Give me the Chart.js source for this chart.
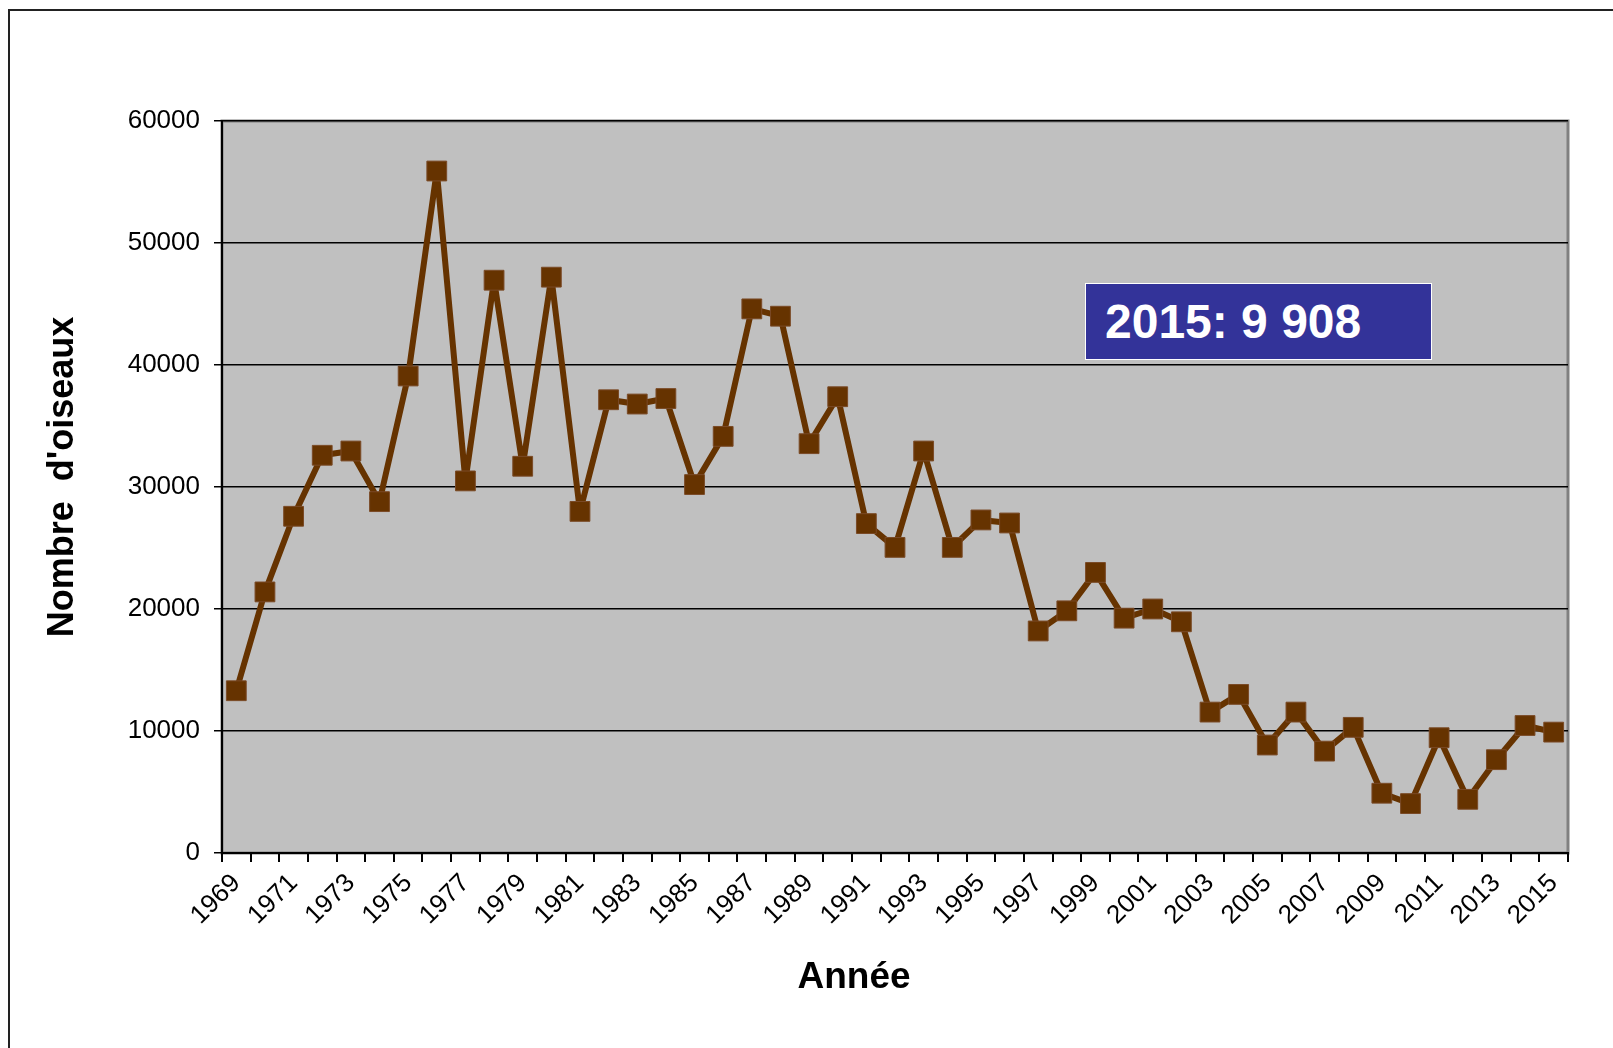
<!DOCTYPE html>
<html>
<head>
<meta charset="utf-8">
<script src="https://cdn.jsdelivr.net/npm/chart.js@4.4.1/dist/chart.umd.min.js"></script>
<style>
  body { margin: 0; background: #fff; overflow: hidden; }
  #wrap { position: relative; width: 1613px; height: 1048px; }
  #frame { position: absolute; left: 8px; top: 9px; width: 1700px; height: 1100px;
           border-left: 2px solid #222; border-top: 2px solid #222; }
  #chart { position: absolute; left: 0; top: 0; }
  .txt { position: absolute; font-family: "Liberation Sans", Arial, sans-serif; font-weight: bold; color: #000; }
  #xTitle { left: 754px; width: 200px; top: 954px; text-align: center; font-size: 37px; line-height: 44px; }
  #yTitle { left: -139px; width: 400px; top: 455px; text-align: center; font-size: 36px; line-height: 44px;
            transform: rotate(-90deg); white-space: pre; }
  #note { left: 1085px; top: 283px; width: 326px; height: 75px; background: #333399;
          border: 1.5px solid #fff; color: #fff; font-size: 48px; line-height: 75px; padding-left: 19px; }
</style>
</head>
<body>
<div id="wrap">
  <div id="frame"></div>
  <canvas id="chart" width="1613" height="1048"></canvas>
  <div id="xTitle" class="txt">Année</div>
  <div id="yTitle" class="txt">Nombre  d'oiseaux</div>
  <div id="note" class="txt">2015: 9 908</div>
</div>
<script>
const years = ["1969","1970","1971","1972","1973","1974","1975","1976","1977","1978",
  "1979","1980","1981","1982","1983","1984","1985","1986","1987","1988",
  "1989","1990","1991","1992","1993","1994","1995","1996","1997","1998",
  "1999","2000","2001","2002","2003","2004","2005","2006","2007","2008",
  "2009","2010","2011","2012","2013","2014","2015"];
const birds = [13300, 21400, 27600, 32600, 32950, 28800, 39100, 55900, 30500, 46950,
  31700, 47200, 28000, 37150, 36800, 37250, 30200, 34150, 44600, 44000,
  33550, 37400, 27000, 25050, 32950, 25050, 27300, 27050, 18200, 19850,
  23000, 19250, 20000, 18950, 11550, 13000, 8850, 11550, 8350, 10300,
  4900, 4050, 9450, 4400, 7650, 10450, 9908];
const yTicks = [0, 10000, 20000, 30000, 40000, 50000, 60000];

const FONT = '"Liberation Sans", Arial, sans-serif';

// grey plot background with a thin grey frame, like the spreadsheet original
const plotBg = {
  id: 'plotBg',
  beforeDraw(chart) {
    const a = chart.chartArea, ctx = chart.ctx;
    ctx.save();
    ctx.fillStyle = '#c0c0c0';
    ctx.fillRect(a.left, a.top, a.right - a.left, a.bottom - a.top);
    ctx.strokeStyle = '#808080';
    ctx.lineWidth = 3;
    ctx.strokeRect(a.left, a.top, a.right - a.left, a.bottom - a.top);
    ctx.restore();
  }
};

new Chart(document.getElementById('chart'), {
  type: 'line',
  data: {
    labels: years,
    datasets: [{
      data: birds,
      borderColor: '#663300',
      backgroundColor: '#663300',
      borderWidth: 6,
      borderJoinStyle: 'round',
      tension: 0,
      pointStyle: 'rect',
      pointRadius: 14,
      pointHoverRadius: 14,
      pointBorderColor: '#7a4a26',
      pointBorderWidth: 1
    }]
  },
  options: {
    responsive: false,
    animation: false,
    layout: { padding: { left: 0, right: 45, top: 121, bottom: 0 } },
    plugins: { legend: { display: false }, tooltip: { enabled: false } },
    scales: {
      x: {
        offset: true,
        grid: { offset: true, drawOnChartArea: false, drawTicks: true, tickLength: 9, color: '#000', lineWidth: 2 },
        border: { color: '#000', width: 2 },
        ticks: {
          autoSkip: false, minRotation: 45, maxRotation: 45, padding: 6,
          color: '#000', font: { family: FONT, size: 26 },
          callback: (v, i) => i % 2 === 0 ? years[i] : ''
        },
        afterFit: s => { s.height = 195; }
      },
      y: {
        min: 0, max: 60000,
        afterBuildTicks: s => { s.ticks = yTicks.map(v => ({ value: v })); },
        grid: { color: '#000', lineWidth: 1.5, tickLength: 8 },
        border: { color: '#000', width: 2 },
        ticks: { padding: 14, color: '#000', font: { family: FONT, size: 26 }, callback: v => String(v) },
        afterFit: s => { s.width = 222; }
      }
    }
  },
  plugins: [plotBg]
});
</script>
</body>
</html>
